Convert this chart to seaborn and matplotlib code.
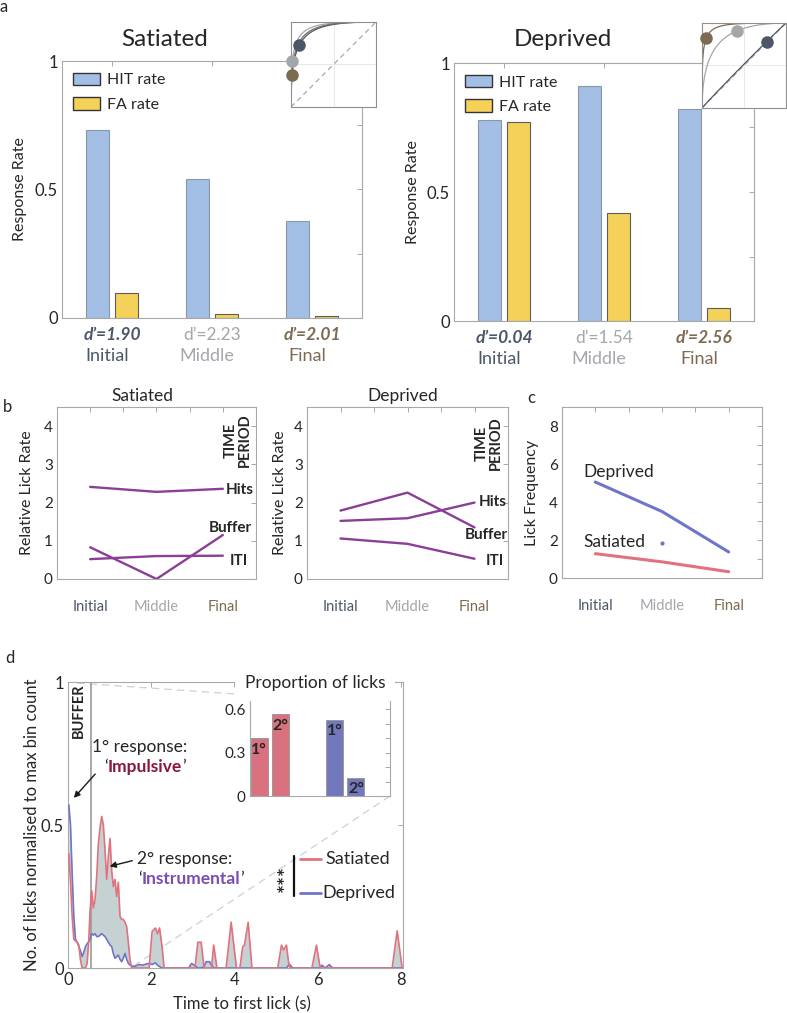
import math
import numpy as np
import pandas as pd
import seaborn as sns
import matplotlib.pyplot as plt
from matplotlib.patches import Patch
from matplotlib.lines import Line2D
from matplotlib.ticker import MultipleLocator, FixedLocator

W, H = 787, 1013

# ---- data ----
periods = ['Initial', 'Middle', 'Final']
period_colors = ['#4b5769', '#a3a6ab', '#7d6a52']

# a: response rates
sat_hit = [0.73, 0.54, 0.377]
sat_fa = [0.097, 0.016, 0.009]
dep_hit = [0.78, 0.91, 0.82]
dep_fa = [0.77, 0.42, 0.05]
sat_dprime = ['1.90', '2.23', '2.01']
dep_dprime = ['0.04', '1.54', '2.56']

# b: relative lick rate
sat_hits = [2.41, 2.28, 2.36]
sat_buffer = [0.83, 0.0, 1.15]
sat_iti = [0.52, 0.60, 0.61]
dep_hits = [1.52, 1.59, 2.00]
dep_buffer = [1.79, 2.26, 1.35]
dep_iti = [1.06, 0.92, 0.53]

# c: lick frequency
freq_dep = [5.05, 3.50, 1.37]
freq_sat = [1.28, 0.85, 0.33]
freq_dep_mid_dot = 1.83

# d: normalised lick histograms
lick_t = [0.02, 0.06, 0.10, 0.14, 0.18, 0.22, 0.26, 0.30, 0.34, 0.38, 0.42, 0.46,
          0.50, 0.53, 0.57, 0.61, 0.65, 0.69, 0.73, 0.77, 0.81, 0.85, 0.89, 0.93,
          0.97, 1.01, 1.05, 1.09, 1.13, 1.17, 1.21, 1.25, 1.29, 1.33, 1.37, 1.41,
          1.45, 1.49, 1.53, 1.60, 1.70, 1.80, 1.90, 1.95, 2.02, 2.10, 2.15, 2.20,
          2.26, 2.31, 2.90, 2.97, 3.05, 3.12, 3.20, 3.27, 3.32, 3.40, 3.45, 3.50,
          3.58, 3.80, 3.92, 4.05, 4.13, 4.20, 4.24, 4.33, 4.42, 5.04, 5.13, 5.18,
          5.25, 5.30, 5.33, 5.40, 5.86, 5.97, 6.06, 6.10, 6.18, 6.28, 6.36, 7.79,
          7.91, 8.03]
lick_sat = [0.40, 0.30, 0.18, 0.10, 0.095, 0.09, 0.08, 0.028, 0.0, 0.0, 0.0, 0.016,
            0.10, 0.20, 0.27, 0.21, 0.24, 0.32, 0.435, 0.49, 0.53, 0.50, 0.41, 0.31,
            0.39, 0.453, 0.34, 0.285, 0.31, 0.25, 0.30, 0.18, 0.17, 0.17, 0.16, 0.145,
            0.09, 0.028, 0.0, 0.0, 0.0, 0.0, 0.0, 0.0, 0.127, 0.14, 0.12, 0.14,
            0.075, 0.0, 0.0, 0.0, 0.0, 0.09, 0.09, 0.0, 0.0, 0.0, 0.0, 0.08,
            0.0, 0.0, 0.16, 0.0, 0.0, 0.075, 0.08, 0.16, 0.0, 0.0, 0.08, 0.063,
            0.08, 0.02, 0.0, 0.0, 0.0, 0.08, 0.0, 0.0, 0.0, 0.0, 0.0, 0.0,
            0.13, 0.0]
lick_dep = [0.57, 0.50, 0.33, 0.18, 0.10, 0.09, 0.075, 0.06, 0.04, 0.055, 0.075, 0.085,
            0.092, 0.10, 0.12, 0.115, 0.12, 0.11, 0.11, 0.115, 0.12, 0.115, 0.11, 0.10,
            0.09, 0.08, 0.075, 0.05, 0.034, 0.04, 0.045, 0.03, 0.022, 0.035, 0.051, 0.03,
            0.016, 0.01, 0.008, 0.005, 0.012, 0.01, 0.015, 0.016, 0.012, 0.018, 0.01, 0.005,
            0.0, 0.0, 0.0, 0.016, 0.008, 0.0, 0.0, 0.005, 0.022, 0.022, 0.01, 0.0,
            0.0, 0.0, 0.0, 0.0, 0.0, 0.0, 0.0, 0.0, 0.0, 0.0, 0.0, 0.0,
            0.0, 0.01, 0.012, 0.0, 0.0, 0.0, 0.0, 0.01, 0.0, 0.012, 0.0, 0.0,
            0.0, 0.0]
buffer_end = 0.55

# d inset: proportion of licks
prop_labels = ['1°', '2°', '1°', '2°']
prop_group = ['Satiated', 'Satiated', 'Deprived', 'Deprived']
prop_pos = [0, 1, 3.5, 4.5]
prop_vals = [0.40, 0.565, 0.53, 0.125]

# ---- style ----
HIT_C = '#a3bfe6'
FA_C = '#f4d25a'
PURPLE = '#8b3e96'
DEP_C = '#6f75c9'
SAT_C = '#e2717f'
FILL_C = '#c6d2d2'
EDGE = '#a8a8a8'
TXT = '#262626'

sns.set_style('white')
plt.rcParams['font.family'] = ['Lato', 'DejaVu Sans']

fig = plt.figure(figsize=(W / 100, H / 100), dpi=100)


def add_ax(x0, y0, x1, y1):
    return fig.add_axes([x0 / W, 1 - y1 / H, (x1 - x0) / W, (y1 - y0) / H])


def P(x, y):
    return (x / W, 1 - y / H)


def box(ax, size=11):
    for s in ax.spines.values():
        s.set_visible(True)
        s.set_color(EDGE)
        s.set_linewidth(0.8)
    ax.tick_params(which='both', direction='in', top=True, right=True, color=EDGE,
                   labelcolor=TXT, width=0.7, length=3.5, labelsize=size, pad=3)


def ylab(ax, text, x_off, size):
    ax.set_ylabel(text, fontsize=size, color=TXT, va='center')
    ax.yaxis.set_label_coords(x_off, 0.5)


def ftext(x, y, s, **kw):
    kw.setdefault('ha', 'center')
    kw.setdefault('va', 'center')
    kw.setdefault('color', TXT)
    return fig.text(*P(x, y), s, **kw)


# ---- a: response rate bars ----
def rate_panel(px, hit, fa, dprime, title, title_x, ylab_off):
    ax = add_ax(*px)
    df = pd.DataFrame({'period': periods * 2, 'rate': hit + fa,
                       'measure': ['HIT rate'] * 3 + ['FA rate'] * 3})
    sns.barplot(data=df, x='period', y='rate', hue='measure', palette=[HIT_C, FA_C],
                width=0.58, gap=0.21, saturation=1, errorbar=None, legend=False, ax=ax)
    for p in ax.patches[:3]:
        p.set_edgecolor('#8c96a4')
        p.set_linewidth(0.8)
    for p in ax.patches[3:]:
        p.set_edgecolor('#5c5c5c')
        p.set_linewidth(0.8)
    ax.set_xlim(-0.5, 2.5)
    ax.set_ylim(0, 1)
    box(ax, 12)
    ax.set_yticks([0, 0.5, 1], ['0', '0.5', '1'])
    ax.yaxis.set_minor_locator(FixedLocator([0.25, 0.75]))
    ax.set_xticks([0, 1, 2], ['', '', ''])
    ax.set_xlabel('')
    ylab(ax, 'Response Rate', ylab_off, 11.5)
    for i in range(3):
        strong = i != 1
        ax.text(i, -0.066, 'd’=' + dprime[i], ha='center', va='center', fontsize=12.5,
                color=period_colors[i], weight='bold' if strong else 'normal',
                style='italic' if strong else 'normal', clip_on=False)
        ax.text(i - 0.05, -0.148, periods[i], ha='center', va='center', fontsize=13,
                color=period_colors[i], clip_on=False)
    handles = [Patch(facecolor=HIT_C, edgecolor='#333333', lw=1.0, label='HIT rate'),
               Patch(facecolor=FA_C, edgecolor='#333333', lw=1.0, label='FA rate')]
    ax.legend(handles=handles, loc='upper left', bbox_to_anchor=(0.035, 0.955),
              frameon=False, fontsize=11.5, handlelength=1.75, handleheight=0.85,
              handletextpad=0.4, labelspacing=0.6, borderpad=0, borderaxespad=0)
    ftext(title_x, 40, title, fontsize=17.5)
    return ax


rate_panel((62, 61, 362, 318), sat_hit, sat_fa, sat_dprime, 'Satiated', 165, -42 / 300)
rate_panel((454, 63, 754, 321), dep_hit, dep_fa, dep_dprime, 'Deprived', 563, -41 / 300)

erf = np.vectorize(math.erf)


def phi(z):
    return 0.5 * (1 + erf(z / math.sqrt(2)))


def roc_inset(px, fa, hit, dprime):
    ax = add_ax(*px)
    crit = np.linspace(-4, 7, 300)
    ax.axhline(0.5, color='#e4e4e4', lw=0.6)
    ax.axvline(0.5, color='#e4e4e4', lw=0.6)
    ax.plot([0, 1], [0, 1], ls=(0, (4, 3)), color='#a8a8a8', lw=0.9)
    for i in range(3):
        d = float(dprime[i])
        ax.plot(phi(-crit), phi(d - crit), color=period_colors[i], lw=0.9)
    for i in range(3):
        ax.plot(fa[i], hit[i], 'o', ms=8, color=period_colors[i], clip_on=False, zorder=5)
    ax.set_xlim(0, 1)
    ax.set_ylim(0, 1)
    ax.set_xticks([])
    ax.set_yticks([])
    for s in ax.spines.values():
        s.set_visible(True)
        s.set_color('#8f8f8f')
        s.set_linewidth(0.8)


roc_inset((291, 22, 376, 107), sat_fa, sat_hit, sat_dprime)
roc_inset((702, 23, 786, 108), dep_fa, dep_hit, dep_dprime)


# ---- b: relative lick rate ----
def lick_panel(px, hits, buffer, iti, title, title_x, lab_pos, tp_pos, ylab_off):
    ax = add_ax(*px)
    df = pd.DataFrame({'period': periods * 3, 'rate': hits + buffer + iti,
                       'epoch': ['Hits'] * 3 + ['Buffer'] * 3 + ['ITI'] * 3})
    sns.lineplot(data=df, x='period', y='rate', hue='epoch', palette=[PURPLE] * 3,
                 lw=1.7, legend=False, sort=False, ax=ax)
    ax.set_xlim(-0.5, 2.5)
    ax.set_ylim(0, 4.5)
    box(ax, 11)
    ax.set_yticks([0, 1, 2, 3, 4])
    ax.set_xticks([0, 1, 2], periods)
    ax.xaxis.set_minor_locator(FixedLocator([0.5, 1.5]))
    ax.tick_params(axis='x', pad=15, labelsize=10.5)
    for lab, c in zip(ax.get_xticklabels(), period_colors):
        lab.set_color(c)
    ax.set_xlabel('')
    ylab(ax, 'Relative Lick Rate', ylab_off, 11.5)
    for name, (x, y) in zip(['Hits', 'Buffer', 'ITI'], lab_pos):
        ax.text(x, y, name, ha='center', va='center', fontsize=11, weight='bold', color=TXT)
    ax.text(tp_pos[0], tp_pos[1], 'TIME\nPERIOD', rotation=90, ha='center', va='center',
            fontsize=10.5, weight='bold', color=TXT, linespacing=1.0)
    ftext(title_x, 396, title, fontsize=12.5)
    return ax


lick_panel((57, 407, 256, 579), sat_hits, sat_buffer, sat_iti, 'Satiated', 142,
           [(2.25, 2.33), (2.12, 1.33), (2.24, 0.47)], (2.22, 3.63), -30 / 199)
lick_panel((307, 407, 508, 579), dep_hits, dep_buffer, dep_iti, 'Deprived', 403,
           [(2.27, 2.01), (2.18, 1.15), (2.31, 0.47)], (2.22, 3.55), -27 / 201)

# ---- c: lick frequency ----
ax = add_ax(562, 407, 762, 578)
df_c = pd.DataFrame({'period': periods * 2, 'freq': freq_dep + freq_sat,
                     'group': ['Deprived'] * 3 + ['Satiated'] * 3})
sns.lineplot(data=df_c, x='period', y='freq', hue='group', palette=[DEP_C, SAT_C],
             lw=2.2, legend=False, sort=False, ax=ax, solid_capstyle='round')
ax.plot(1, freq_dep_mid_dot, 'o', ms=2, color=DEP_C)
ax.set_xlim(-0.5, 2.5)
ax.set_ylim(0, 9)
box(ax, 11)
ax.set_yticks([0, 2, 4, 6, 8])
ax.yaxis.set_minor_locator(FixedLocator([1, 3, 5, 7]))
ax.set_xticks([0, 1, 2], periods)
ax.xaxis.set_minor_locator(FixedLocator([0.5, 1.5]))
ax.tick_params(axis='x', pad=15, labelsize=10.5)
for lab, c in zip(ax.get_xticklabels(), period_colors):
    lab.set_color(c)
ax.set_xlabel('')
ylab(ax, 'Lick Frequency', -30 / 200, 11.5)
ax.text(-0.18, 5.56, 'Deprived', ha='left', va='center', fontsize=12.5, color=TXT)
ax.text(-0.18, 1.87, 'Satiated', ha='left', va='center', fontsize=12.5, color=TXT)

# ---- d: time to first lick ----
ax = add_ax(68, 682, 403, 968)
ax.fill_between(lick_t, lick_sat, lick_dep, color=FILL_C, lw=0, zorder=1)
n = len(lick_t)
df_d = pd.DataFrame({'t': lick_t * 2, 'val': lick_dep + lick_sat,
                     'group': ['Deprived'] * n + ['Satiated'] * n})
sns.lineplot(data=df_d, x='t', y='val', hue='group', palette=[DEP_C, SAT_C],
             hue_order=['Deprived', 'Satiated'], estimator=None, lw=1.2,
             legend=False, ax=ax, zorder=3)
ax.axvline(buffer_end, color='#9a9a9a', lw=1.2, zorder=2)
ax.set_xlim(0, 8.05)
ax.set_ylim(0, 1)
box(ax, 12)
ax.set_xticks([0, 2, 4, 6, 8])
ax.set_yticks([0, 0.5, 1], ['0', '0.5', '1'])
ax.set_xlabel('Time to first lick (s)', fontsize=12, color=TXT, va='center')
ax.xaxis.set_label_coords(0.52, -36 / 286)
ylab(ax, 'No. of licks normalised to max bin count', -36 / 335, 12)
ax.text(0.26, 0.9, 'BUFFER', rotation=90, ha='center', va='center', fontsize=10.5,
        weight='bold', color=TXT)

for (x0, y0), (x1, y1) in [((77, 683), (250, 695)), ((390, 796), (132, 967))]:
    ax.add_line(Line2D([x0 / W, x1 / W], [1 - y0 / H, 1 - y1 / H], transform=fig.transFigure,
                       color='#c6d3da', lw=0.9, ls=(0, (6, 4)), clip_on=False, zorder=0.8))

# annotations
ftext(140, 747, '1° response:', fontsize=12.5)
ftext(185, 859, '2° response:', fontsize=12.5)


def chain(x, y, parts):
    prev = None
    for txt, kw in parts:
        if prev is None:
            prev = fig.text(*P(x, y), txt, ha='left', va='center', fontsize=12.5, **kw)
        else:
            prev = ax.annotate(txt, xy=(1, 0), xycoords=prev, ha='left', va='bottom',
                               fontsize=12.5, annotation_clip=False, **kw)


chain(104, 767, [('‘', {'color': TXT}), ('Impulsive', {'color': '#8b1838', 'weight': 'bold'}),
                 ('’', {'color': TXT})])
chain(138, 879, [('‘', {'color': TXT}), ('Instrumental', {'color': '#7a4db4', 'weight': 'bold'}),
                 ('’', {'color': TXT})])

for tail, tip in [((97, 772), (72, 800)), ((135, 860), (107, 867))]:
    ax.annotate('', xy=P(*tip), xycoords='figure fraction', xytext=P(*tail),
                textcoords='figure fraction',
                arrowprops=dict(arrowstyle='-|>', color='#1a1a1a', lw=1.0, mutation_scale=9))

# legend
for y, c, lab, tx in [(859, SAT_C, 'Satiated', 325), (893, DEP_C, 'Deprived', 322)]:
    fig.add_artist(Line2D([300 / W, 321 / W], [1 - y / H] * 2, color=c, lw=2.0))
    ftext(tx, y, lab, fontsize=13, ha='left')
fig.add_artist(Line2D([294 / W] * 2, [1 - 856 / H, 1 - 896 / H], color='#111111', lw=1.6))
ftext(287, 878, '***', rotation=90, fontsize=15, weight='bold')

# inset: proportion of licks
axi = add_ax(250, 695, 390, 796)
sns.barplot(x=prop_pos, y=prop_vals, hue=prop_group, palette=['#d9727e', '#7378bc'],
            hue_order=['Satiated', 'Deprived'], native_scale=True, dodge=False,
            width=0.79, saturation=1, errorbar=None, legend=False, ax=axi)
for p in axi.patches:
    p.set_edgecolor('#9a9a9a')
    p.set_linewidth(0.7)
axi.set_xlim(-0.43, 6.09)
axi.set_ylim(0, 0.7)
box(axi, 11)
axi.set_yticks([0, 0.3, 0.6], ['0', '0.3', '0.6'])
axi.yaxis.set_minor_locator(MultipleLocator(0.1))
axi.set_xticks([])
axi.tick_params(axis='x', which='both', top=False, bottom=False)
for x, v, lab in zip(prop_pos, prop_vals, prop_labels):
    axi.text(x, v - 0.03, lab, ha='center', va='top', fontsize=11.5, weight='bold', color=TXT)
ftext(315, 683, 'Proportion of licks', fontsize=12.5,
      bbox=dict(facecolor='white', edgecolor='none', pad=7))

# panel letters
ftext(4, 7, 'a', fontsize=12)
ftext(7, 407, 'b', fontsize=12)
ftext(531, 398, 'c', fontsize=12)
ftext(10, 658, 'd', fontsize=12)

fig.savefig('out.png', dpi=100)
